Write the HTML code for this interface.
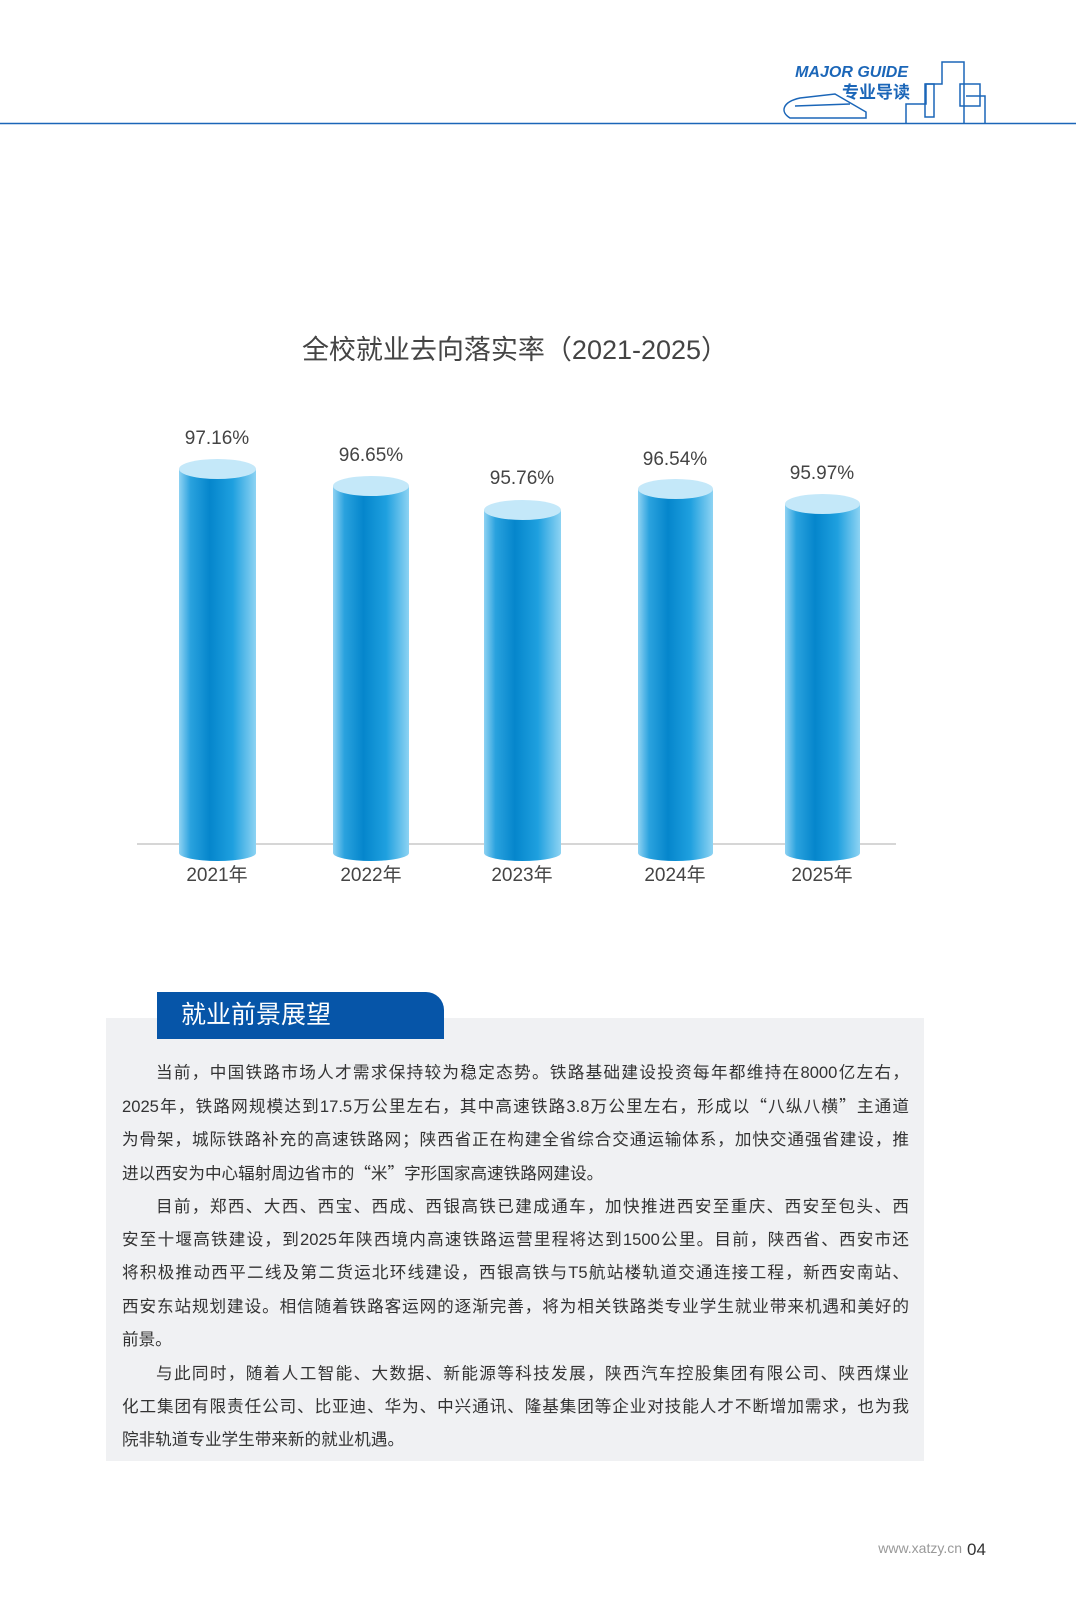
<!DOCTYPE html>
<html><head><meta charset="utf-8"><style>
body{margin:0;width:1080px;height:1617px;background:#fff;position:relative;overflow:hidden;font-family:"Liberation Sans","Noto Sans CJK SC",sans-serif;}
.box{position:absolute;left:106px;top:1018px;width:818px;height:443px;background:#f0f1f3;}
.tab{position:absolute;left:157px;top:992px;width:287px;height:47px;background:#0655a8;border-top-right-radius:18px;color:#fff;font-size:25px;line-height:47px;padding-left:24px;box-sizing:border-box;}
.txt{position:absolute;left:122px;top:1056px;width:787px;font-size:16.6px;line-height:33.4px;color:#333;}
.txt div{text-align:justify;text-align-last:justify;white-space:nowrap;height:33.4px;}
.txt div.l{text-align-last:left;}
.txt div.i{padding-left:34px;}
.q{font-family:"Noto Sans CJK SC",sans-serif;}
</style></head><body>
<svg width="1080" height="1617" style="position:absolute;left:0;top:0">
<defs>
<linearGradient id="g" x1="0" x2="1" y1="0" y2="0">
<stop offset="0" stop-color="#8fd2f3"/><stop offset="0.15" stop-color="#2aa2de"/><stop offset="0.4" stop-color="#0586cc"/><stop offset="0.7" stop-color="#1fa0df"/><stop offset="1" stop-color="#8dd3f3"/>
</linearGradient>
</defs>
<line x1="0" y1="123.5" x2="1076" y2="123.5" stroke="#1b66b8" stroke-width="1.5"/>
<g fill="none" stroke="#1b66b8" stroke-width="1.5">
<polyline points="906,123 906,104 926,104 926,84 942,84 942,62 964,62 964,123"/>
<rect x="925" y="84" width="9" height="33"/>
<rect x="960" y="84" width="20" height="22"/>
<polyline points="966,96 985,96 985,123"/>
<path d="M790,118 C780,112 782,102 800,98 L835,94 L866,112 L866,118 Z"/>
<path d="M795,106 L850,104"/>
</g>
<text x="908" y="77" fill="#1b66b8" font-size="16" font-style="italic" font-weight="bold" text-anchor="end" font-family="Liberation Sans">MAJOR GUIDE</text>
<text x="910" y="98" fill="#1b66b8" font-size="17" font-weight="bold" text-anchor="end" font-family="Noto Sans CJK SC">专业导读</text>

<text x="515" y="359" fill="#444" font-size="27" text-anchor="middle">全校就业去向落实率（2021-2025）</text>
<line x1="137" y1="844" x2="896" y2="844" stroke="#c8c8c8" stroke-width="1.5"/>
<g>
<rect x="179" y="469" width="77" height="384" fill="url(#g)"/><ellipse cx="217.5" cy="853" rx="38.5" ry="8" fill="url(#g)"/><ellipse cx="217.5" cy="469" rx="38.5" ry="10" fill="#c4e8f9"/>
<rect x="333" y="486" width="76" height="367" fill="url(#g)"/><ellipse cx="371" cy="853" rx="38" ry="8" fill="url(#g)"/><ellipse cx="371" cy="486" rx="38" ry="10" fill="#c4e8f9"/>
<rect x="484" y="510" width="77" height="343" fill="url(#g)"/><ellipse cx="522.5" cy="853" rx="38.5" ry="8" fill="url(#g)"/><ellipse cx="522.5" cy="510" rx="38.5" ry="10" fill="#c4e8f9"/>
<rect x="638" y="489" width="75" height="364" fill="url(#g)"/><ellipse cx="675.5" cy="853" rx="37.5" ry="8" fill="url(#g)"/><ellipse cx="675.5" cy="489" rx="37.5" ry="10" fill="#c4e8f9"/>
<rect x="785" y="504" width="75" height="349" fill="url(#g)"/><ellipse cx="822.5" cy="853" rx="37.5" ry="8" fill="url(#g)"/><ellipse cx="822.5" cy="504" rx="37.5" ry="10" fill="#c4e8f9"/>
</g>
<g fill="#444" font-size="19" text-anchor="middle">
<text x="217" y="444">97.16%</text><text x="371" y="461">96.65%</text><text x="522" y="484">95.76%</text><text x="675" y="465">96.54%</text><text x="822" y="479">95.97%</text>
<text x="217" y="881">2021年</text><text x="371" y="881">2022年</text><text x="522" y="881">2023年</text><text x="675" y="881">2024年</text><text x="822" y="881">2025年</text>
</g>
<text x="962" y="1553" fill="#999" font-size="14" text-anchor="end">www.xatzy.cn</text>
<text x="967" y="1555" fill="#333" font-size="17">04</text>
</svg>
<div class="box"></div>
<div class="tab">就业前景展望</div>
<div class="txt">
<div class="i">当前，中国铁路市场人才需求保持较为稳定态势。铁路基础建设投资每年都维持在8000亿左右，</div>
<div>2025年，铁路网规模达到17.5万公里左右，其中高速铁路3.8万公里左右，形成以<span class="q">“</span>八纵八横<span class="q">”</span>主通道</div>
<div>为骨架，城际铁路补充的高速铁路网；陕西省正在构建全省综合交通运输体系，加快交通强省建设，推</div>
<div class="l">进以西安为中心辐射周边省市的<span class="q">“</span>米<span class="q">”</span>字形国家高速铁路网建设。</div>
<div class="i">目前，郑西、大西、西宝、西成、西银高铁已建成通车，加快推进西安至重庆、西安至包头、西</div>
<div>安至十堰高铁建设，到2025年陕西境内高速铁路运营里程将达到1500公里。目前，陕西省、西安市还</div>
<div>将积极推动西平二线及第二货运北环线建设，西银高铁与T5航站楼轨道交通连接工程，新西安南站、</div>
<div>西安东站规划建设。相信随着铁路客运网的逐渐完善，将为相关铁路类专业学生就业带来机遇和美好的</div>
<div class="l">前景。</div>
<div class="i">与此同时，随着人工智能、大数据、新能源等科技发展，陕西汽车控股集团有限公司、陕西煤业</div>
<div>化工集团有限责任公司、比亚迪、华为、中兴通讯、隆基集团等企业对技能人才不断增加需求，也为我</div>
<div class="l">院非轨道专业学生带来新的就业机遇。</div>
</div>
</body></html>
